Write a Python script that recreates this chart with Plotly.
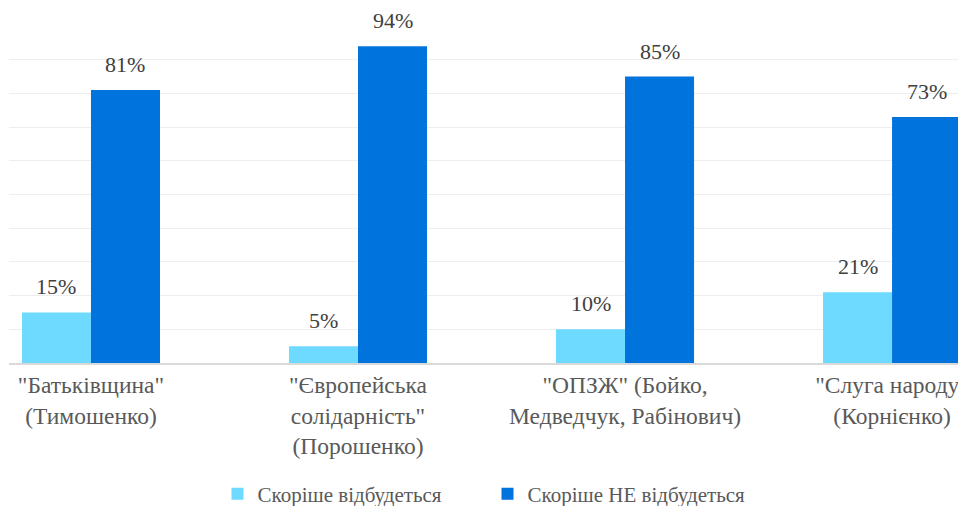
import plotly.graph_objects as go

categories = ['"Батьківщина"<br>(Тимошенко)',
              '"Європейська<br>солідарність"<br>(Порошенко)',
              '"ОПЗЖ" (Бойко,<br>Медведчук, Рабінович)',
              '"Слуга народу"<br>(Корнієнко)']
series_names = ["Скоріше відбудеться", "Скоріше НЕ відбудеться"]
will_happen = [15, 5, 10, 21]
will_not_happen = [81, 94, 85, 73]
colors = ["#6fdaff", "#0073dd"]

FONT = "Liberation Serif"
idx = list(range(len(categories)))

fig = go.Figure()
for name, vals, col in zip(series_names, [will_happen, will_not_happen], colors):
    fig.add_trace(go.Bar(x=idx, y=vals, name=name, marker=dict(color=col, line=dict(width=0))))

bar_w = 0.2585
annotations = []
for k, vals in enumerate([will_happen, will_not_happen]):
    off = (-0.5 + k) * bar_w
    for i, v in zip(idx, vals):
        annotations.append(dict(x=i + off, y=v, text=f"{v}%", showarrow=False,
                                xref="x", yref="y", yanchor="bottom", yshift=11,
                                font=dict(family=FONT, size=22, color="#404040")))

fig.update_layout(
    width=958, height=498,
    font=dict(family=FONT),
    margin=dict(l=1, r=0, t=18, b=143, autoexpand=False),
    paper_bgcolor="white", plot_bgcolor="white",
    barmode="group", bargap=0.483, bargroupgap=0,
    annotations=annotations,
    showlegend=True,
    legend=dict(orientation="h", x=0.5, xanchor="center", y=-0.389, yanchor="middle",
                font=dict(family=FONT, size=21, color="#595959"),
                itemwidth=30, entrywidth=225, traceorder="normal"),
    xaxis=dict(tickmode="array", tickvals=idx, ticktext=categories,
               range=[-0.307, 3.277], showgrid=False, ticks="", automargin=False,
               ticklabeloverflow="allow",
               tickfont=dict(family=FONT, size=23.5, color="#595959"),
               showline=True, linecolor="#d9d9d9", linewidth=2, zeroline=False),
    yaxis=dict(range=[0, 100], dtick=10, showticklabels=False, showgrid=True, automargin=False,
               gridcolor="#eeeeee", gridwidth=1, zeroline=False),
)

fig.write_html("out.html")
